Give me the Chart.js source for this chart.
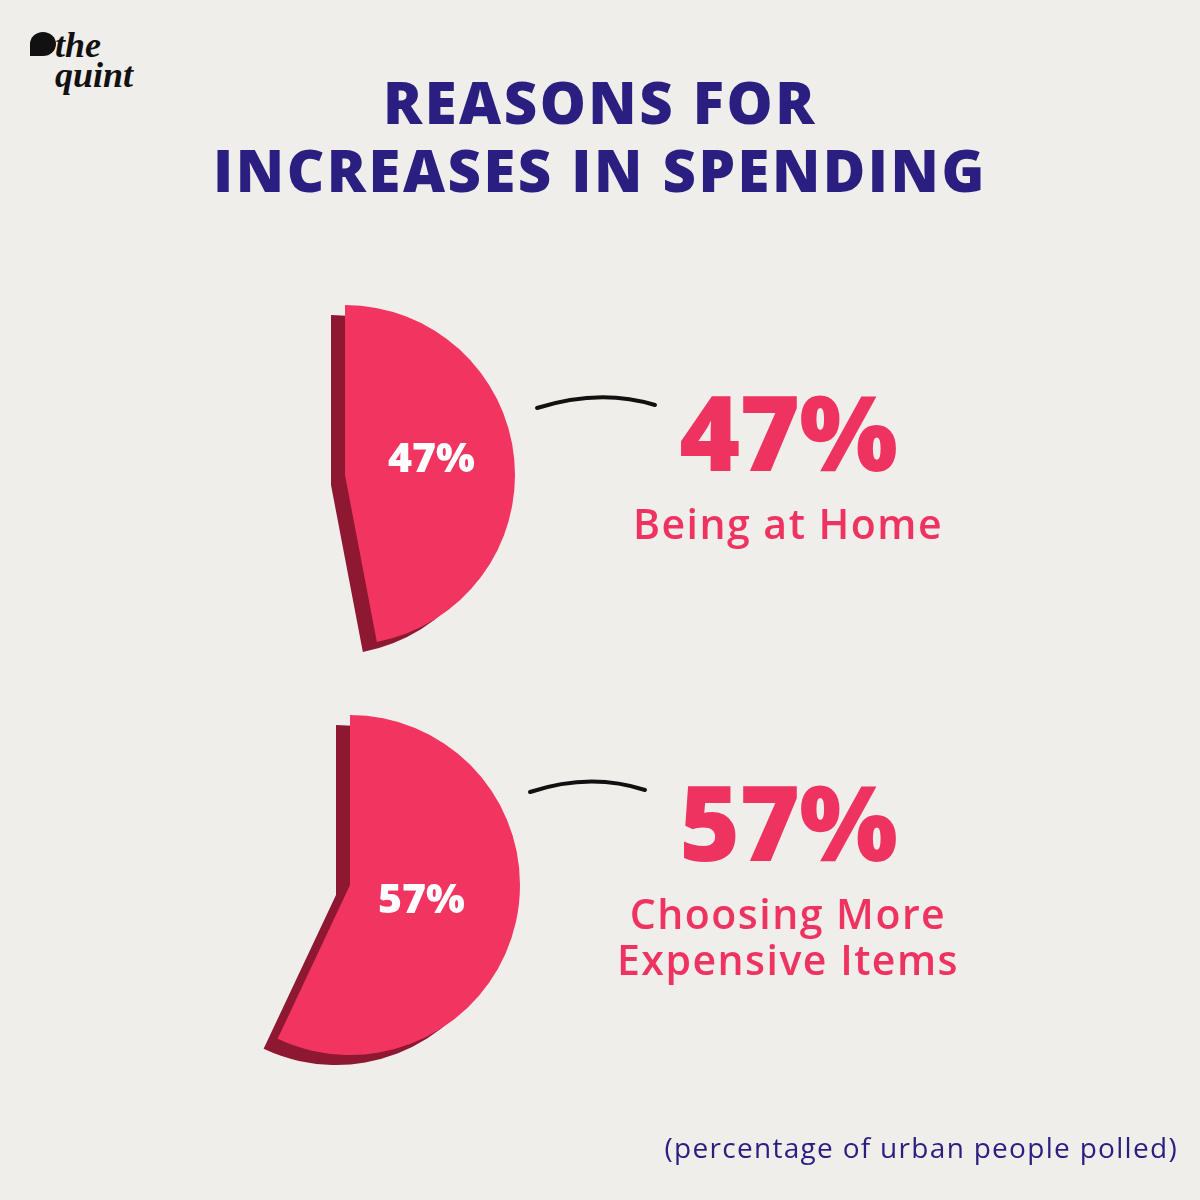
<!DOCTYPE html>
<html>
<head>
<meta charset="utf-8">
<script src="https://cdn.jsdelivr.net/npm/chart.js@4/dist/chart.umd.min.js"></script>
<style>
  body { margin: 0; background: #f0eeea; }
  #wrap { position: relative; width: 1200px; height: 1200px; background: #f0eeea; font-family: "Open Sans", Lato, sans-serif; overflow: hidden; }
  .abs { position: absolute; }
  #title { left: 0; width: 1200px; top: 68px; text-align: center; color: #2a1e80; font-weight: 800; font-size: 58px; line-height: 68px; letter-spacing: 2.5px; }
  .big { color: #ef3360; font-weight: 800; font-size: 104px; text-align: center; width: 440px; letter-spacing: -1px; }
  .sub { color: #ef3360; font-weight: 600; font-size: 41px; text-align: center; width: 440px; line-height: 46px; letter-spacing: 1.5px; }
  .inner { color: #fff; font-weight: 800; font-size: 41px; }
  #note { right: 22px; top: 1128px; color: #2a1e80; font-size: 28px; letter-spacing: 1.3px; }
  #logo { left: 55px; top: 30px; font-family: "Liberation Serif", serif; font-style: italic; font-weight: bold; font-size: 36px; line-height: 30px; color: #111; }
  canvas { position: absolute; }
</style>
</head>
<body>
<div id="wrap">
  <div id="logo" class="abs">the<br>quint</div>
  <div class="abs" style="left:30px;top:32px;width:26px;height:24px;background:#111;border-radius:50% 50% 50% 0;"></div>
  <div id="title" class="abs">REASONS FOR<br>INCREASES IN SPENDING</div>

  <canvas id="pie1" width="380" height="380" style="left:155px;top:285px"></canvas>
  <canvas id="pie2" width="380" height="380" style="left:160px;top:695px"></canvas>

  <svg class="abs" style="left:0;top:0" width="1200" height="1200">
    <path d="M537,408 Q600,388 655,405" stroke="#111" stroke-width="4" fill="none" stroke-linecap="round"/>
    <path d="M530,792 Q590,772 645,790" stroke="#111" stroke-width="4" fill="none" stroke-linecap="round"/>
  </svg>

  <div class="abs inner" style="left:388px;top:428px">47%</div>
  <div class="abs inner" style="left:378px;top:869px">57%</div>

  <div class="abs big" style="left:568px;top:360px">47%</div>
  <div class="abs sub" style="left:568px;top:500px">Being at Home</div>
  <div class="abs big" style="left:568px;top:750px">57%</div>
  <div class="abs sub" style="left:568px;top:890px">Choosing More<br>Expensive Items</div>

  <div id="note" class="abs">(percentage of urban people polled)</div>
</div>
<script>
const reasons = ['Being at Home', 'Choosing More Expensive Items']
const shares = [47, 57]
const pink = '#f23461'
const shade = '#8e1731'

const extrude = {
  id: 'extrude',
  beforeDatasetsDraw(chart) {
    const c = chart.ctx
    c.save()
    c.shadowColor = shade
    c.shadowOffsetX = -14
    c.shadowOffsetY = 10
    c.shadowBlur = 0
  },
  afterDatasetsDraw(chart) {
    chart.ctx.restore()
  }
}

function drawPie(id, value, label) {
  new Chart(document.getElementById(id), {
    type: 'pie',
    data: {
      labels: [label, 'Other'],
      datasets: [{
        data: [value, 100 - value],
        backgroundColor: [pink, 'rgba(0,0,0,0)'],
        borderWidth: 0
      }]
    },
    options: {
      responsive: false,
      animation: false,
      layout: { padding: 20 },
      plugins: { legend: { display: false }, tooltip: { enabled: false } }
    },
    plugins: [extrude]
  })
}

drawPie('pie1', shares[0], reasons[0])
drawPie('pie2', shares[1], reasons[1])
</script>
</body>
</html>
